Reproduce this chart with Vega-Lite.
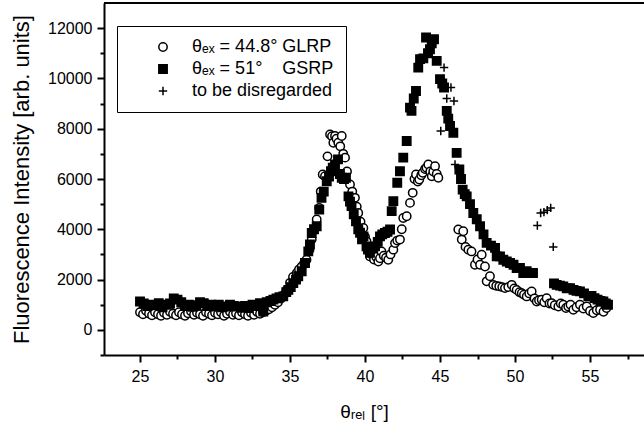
{
 "$schema": "https://vega.github.io/schema/vega-lite/v6.json",
 "width": 540,
 "height": 352,
 "autosize": {"type": "none"},
 "padding": {"left": 104, "top": 3, "right": 0, "bottom": 73},
 "config": {
  "font": "Liberation Sans",
  "view": {"stroke": null},
  "axis": {"domainColor": "black", "tickColor": "black", "labelColor": "black", "titleColor": "black", "grid": false, "domainWidth": 2, "tickWidth": 2, "titleFontWeight": "normal"}
 },
 "layer": [
  {
   "data": {"values": [
    {"x":25.0,"y":700,"s":"a"},{"x":25.2,"y":620,"s":"a"},{"x":25.4,"y":760,"s":"a"},{"x":25.6,"y":650,"s":"a"},{"x":25.8,"y":580,"s":"a"},
    {"x":26.0,"y":700,"s":"a"},{"x":26.2,"y":620,"s":"a"},{"x":26.4,"y":560,"s":"a"},{"x":26.6,"y":680,"s":"a"},{"x":26.8,"y":600,"s":"a"},
    {"x":27.0,"y":720,"s":"a"},{"x":27.2,"y":640,"s":"a"},{"x":27.4,"y":580,"s":"a"},{"x":27.6,"y":700,"s":"a"},{"x":27.8,"y":620,"s":"a"},
    {"x":28.0,"y":560,"s":"a"},{"x":28.2,"y":660,"s":"a"},{"x":28.4,"y":740,"s":"a"},{"x":28.6,"y":600,"s":"a"},{"x":28.8,"y":680,"s":"a"},
    {"x":29.0,"y":620,"s":"a"},{"x":29.2,"y":560,"s":"a"},{"x":29.4,"y":700,"s":"a"},{"x":29.6,"y":640,"s":"a"},{"x":29.8,"y":580,"s":"a"},
    {"x":30.0,"y":680,"s":"a"},{"x":30.2,"y":620,"s":"a"},{"x":30.4,"y":700,"s":"a"},{"x":30.6,"y":560,"s":"a"},{"x":30.8,"y":640,"s":"a"},
    {"x":31.0,"y":720,"s":"a"},{"x":31.2,"y":600,"s":"a"},{"x":31.4,"y":660,"s":"a"},{"x":31.6,"y":580,"s":"a"},{"x":31.8,"y":700,"s":"a"},
    {"x":32.0,"y":620,"s":"a"},{"x":32.2,"y":560,"s":"a"},{"x":32.4,"y":680,"s":"a"},{"x":32.6,"y":600,"s":"a"},{"x":32.8,"y":720,"s":"a"},
    {"x":33.0,"y":640,"s":"a"},{"x":33.2,"y":700,"s":"a"},{"x":33.4,"y":760,"s":"a"},{"x":33.6,"y":820,"s":"a"},{"x":33.8,"y":900,"s":"a"},
    {"x":34.0,"y":1000,"s":"a"},{"x":34.2,"y":1100,"s":"a"},{"x":34.4,"y":1250,"s":"a"},{"x":34.6,"y":1400,"s":"a"},{"x":34.8,"y":1600,"s":"a"},
    {"x":35.0,"y":1870,"s":"a"},{"x":35.2,"y":2100,"s":"a"},{"x":35.45,"y":2260,"s":"a"},{"x":35.6,"y":2400,"s":"a"},{"x":35.78,"y":2520,"s":"a"},
    {"x":35.95,"y":2650,"s":"a"},{"x":36.1,"y":2790,"s":"a"},{"x":36.3,"y":3190,"s":"a"},{"x":36.45,"y":3600,"s":"a"},{"x":36.6,"y":4000,"s":"a"},
    {"x":36.78,"y":4390,"s":"a"},{"x":36.95,"y":4850,"s":"a"},{"x":37.05,"y":5500,"s":"a"},{"x":37.18,"y":6180,"s":"a"},{"x":37.33,"y":6110,"s":"a"},
    {"x":37.5,"y":6900,"s":"a"},{"x":37.67,"y":7770,"s":"a"},{"x":37.8,"y":7700,"s":"a"},{"x":37.89,"y":7440,"s":"a"},{"x":38.0,"y":7710,"s":"a"},
    {"x":38.1,"y":7600,"s":"a"},{"x":38.22,"y":7440,"s":"a"},{"x":38.35,"y":7300,"s":"a"},{"x":38.45,"y":7710,"s":"a"},{"x":38.55,"y":7000,"s":"a"},
    {"x":38.67,"y":6850,"s":"a"},{"x":38.8,"y":6300,"s":"a"},{"x":39.0,"y":5780,"s":"a"},{"x":39.15,"y":5500,"s":"a"},{"x":39.33,"y":5250,"s":"a"},
    {"x":39.45,"y":4900,"s":"a"},{"x":39.55,"y":4650,"s":"a"},{"x":39.7,"y":4300,"s":"a"},{"x":39.89,"y":4050,"s":"a"},{"x":40.0,"y":3700,"s":"a"},
    {"x":40.1,"y":3520,"s":"a"},{"x":40.2,"y":3190,"s":"a"},{"x":40.33,"y":2920,"s":"a"},{"x":40.45,"y":3000,"s":"a"},{"x":40.6,"y":2800,"s":"a"},
    {"x":40.75,"y":2900,"s":"a"},{"x":40.89,"y":2720,"s":"a"},{"x":41.0,"y":2850,"s":"a"},{"x":41.1,"y":3120,"s":"a"},{"x":41.25,"y":2950,"s":"a"},
    {"x":41.4,"y":2870,"s":"a"},{"x":41.55,"y":2790,"s":"a"},{"x":41.7,"y":3000,"s":"a"},{"x":41.89,"y":3190,"s":"a"},{"x":42.0,"y":3450,"s":"a"},
    {"x":42.15,"y":3550,"s":"a"},{"x":42.33,"y":3590,"s":"a"},{"x":42.45,"y":4000,"s":"a"},{"x":42.55,"y":4450,"s":"a"},{"x":42.78,"y":4520,"s":"a"},
    {"x":43.0,"y":5050,"s":"a"},{"x":43.18,"y":5450,"s":"a"},{"x":43.3,"y":6000,"s":"a"},{"x":43.4,"y":6180,"s":"a"},{"x":43.52,"y":5900,"s":"a"},
    {"x":43.62,"y":5980,"s":"a"},{"x":43.75,"y":6150,"s":"a"},{"x":43.85,"y":6250,"s":"a"},{"x":44.0,"y":6400,"s":"a"},{"x":44.1,"y":6450,"s":"a"},
    {"x":44.22,"y":6580,"s":"a"},{"x":44.35,"y":6300,"s":"a"},{"x":44.45,"y":6110,"s":"a"},{"x":44.55,"y":6300,"s":"a"},{"x":44.67,"y":6510,"s":"a"},
    {"x":44.78,"y":6200,"s":"a"},{"x":44.89,"y":6050,"s":"a"},
    {"x":46.22,"y":3990,"s":"a"},{"x":46.45,"y":3590,"s":"a"},{"x":46.55,"y":3920,"s":"a"},{"x":46.7,"y":3300,"s":"a"},{"x":46.89,"y":3190,"s":"a"},
    {"x":47.1,"y":3120,"s":"a"},{"x":47.33,"y":2590,"s":"a"},{"x":47.5,"y":2800,"s":"a"},{"x":47.67,"y":2590,"s":"a"},{"x":47.78,"y":2990,"s":"a"},
    {"x":48.0,"y":2520,"s":"a"},{"x":48.11,"y":1930,"s":"a"},{"x":48.33,"y":2130,"s":"a"},{"x":48.55,"y":1790,"s":"a"},{"x":48.75,"y":1750,"s":"a"},
    {"x":48.95,"y":1730,"s":"a"},{"x":49.15,"y":1700,"s":"a"},{"x":49.33,"y":1660,"s":"a"},{"x":49.55,"y":1700,"s":"a"},{"x":49.78,"y":1790,"s":"a"},
    {"x":49.95,"y":1650,"s":"a"},{"x":50.11,"y":1590,"s":"a"},{"x":50.3,"y":1500,"s":"a"},{"x":50.45,"y":1460,"s":"a"},{"x":50.6,"y":1400,"s":"a"},
    {"x":50.78,"y":1330,"s":"a"},{"x":50.95,"y":1450,"s":"a"},{"x":51.11,"y":1530,"s":"a"},{"x":51.3,"y":1250,"s":"a"},{"x":51.45,"y":1130,"s":"a"},
    {"x":51.6,"y":1180,"s":"a"},{"x":51.78,"y":1200,"s":"a"},{"x":51.95,"y":1100,"s":"a"},{"x":52.11,"y":1260,"s":"a"},{"x":52.3,"y":1050,"s":"a"},
    {"x":52.45,"y":1060,"s":"a"},{"x":52.65,"y":980,"s":"a"},{"x":52.89,"y":930,"s":"a"},{"x":53.05,"y":1050,"s":"a"},{"x":53.22,"y":1000,"s":"a"},
    {"x":53.4,"y":870,"s":"a"},{"x":53.55,"y":930,"s":"a"},{"x":53.7,"y":1000,"s":"a"},{"x":53.89,"y":800,"s":"a"},{"x":54.1,"y":900,"s":"a"},
    {"x":54.33,"y":1000,"s":"a"},{"x":54.55,"y":850,"s":"a"},{"x":54.78,"y":930,"s":"a"},{"x":55.0,"y":750,"s":"a"},{"x":55.22,"y":670,"s":"a"},
    {"x":55.45,"y":780,"s":"a"},{"x":55.67,"y":800,"s":"a"},{"x":55.9,"y":720,"s":"a"},{"x":56.1,"y":870,"s":"a"},
    {"x":25.0,"y":1130,"s":"b"},{"x":25.25,"y":1050,"s":"b"},{"x":25.5,"y":950,"s":"b"},{"x":25.75,"y":1000,"s":"b"},{"x":26.0,"y":980,"s":"b"},
    {"x":26.25,"y":1060,"s":"b"},{"x":26.5,"y":900,"s":"b"},{"x":26.75,"y":1000,"s":"b"},{"x":27.0,"y":1050,"s":"b"},{"x":27.25,"y":1250,"s":"b"},
    {"x":27.5,"y":1200,"s":"b"},{"x":27.75,"y":1100,"s":"b"},{"x":28.0,"y":950,"s":"b"},{"x":28.25,"y":1000,"s":"b"},{"x":28.5,"y":920,"s":"b"},
    {"x":28.75,"y":980,"s":"b"},{"x":29.0,"y":1100,"s":"b"},{"x":29.25,"y":1060,"s":"b"},{"x":29.5,"y":950,"s":"b"},{"x":29.75,"y":1000,"s":"b"},
    {"x":30.0,"y":930,"s":"b"},{"x":30.25,"y":1000,"s":"b"},{"x":30.5,"y":900,"s":"b"},{"x":30.75,"y":930,"s":"b"},{"x":31.0,"y":1000,"s":"b"},
    {"x":31.25,"y":950,"s":"b"},{"x":31.5,"y":930,"s":"b"},{"x":31.75,"y":880,"s":"b"},{"x":32.0,"y":950,"s":"b"},{"x":32.25,"y":870,"s":"b"},
    {"x":32.5,"y":1000,"s":"b"},{"x":32.75,"y":950,"s":"b"},{"x":33.0,"y":1060,"s":"b"},{"x":33.22,"y":730,"s":"b"},{"x":33.45,"y":1100,"s":"b"},
    {"x":33.7,"y":1150,"s":"b"},{"x":33.89,"y":1200,"s":"b"},{"x":34.1,"y":1250,"s":"b"},{"x":34.3,"y":1300,"s":"b"},{"x":34.55,"y":1330,"s":"b"},
    {"x":34.75,"y":1500,"s":"b"},{"x":34.89,"y":1590,"s":"b"},{"x":35.05,"y":1700,"s":"b"},{"x":35.22,"y":1860,"s":"b"},{"x":35.4,"y":2000,"s":"b"},
    {"x":35.55,"y":2130,"s":"b"},{"x":35.78,"y":2330,"s":"b"},{"x":36.0,"y":2660,"s":"b"},{"x":36.22,"y":3120,"s":"b"},{"x":36.33,"y":3400,"s":"b"},
    {"x":36.45,"y":3850,"s":"b"},{"x":36.6,"y":4000,"s":"b"},{"x":36.78,"y":4120,"s":"b"},{"x":36.95,"y":4780,"s":"b"},{"x":37.1,"y":5250,"s":"b"},
    {"x":37.25,"y":5500,"s":"b"},{"x":37.45,"y":5910,"s":"b"},{"x":37.6,"y":6100,"s":"b"},{"x":37.73,"y":6310,"s":"b"},{"x":37.85,"y":6450,"s":"b"},
    {"x":38.0,"y":6580,"s":"b"},{"x":38.2,"y":6780,"s":"b"},{"x":38.33,"y":6200,"s":"b"},{"x":38.45,"y":6050,"s":"b"},{"x":38.6,"y":6000,"s":"b"},
    {"x":38.73,"y":6050,"s":"b"},{"x":38.9,"y":5310,"s":"b"},{"x":39.0,"y":5100,"s":"b"},{"x":39.1,"y":4920,"s":"b"},{"x":39.25,"y":4600,"s":"b"},
    {"x":39.4,"y":4320,"s":"b"},{"x":39.55,"y":4000,"s":"b"},{"x":39.67,"y":3860,"s":"b"},{"x":39.8,"y":3600,"s":"b"},{"x":39.9,"y":3720,"s":"b"},
    {"x":40.1,"y":3320,"s":"b"},{"x":40.2,"y":3190,"s":"b"},{"x":40.33,"y":3060,"s":"b"},{"x":40.5,"y":3250,"s":"b"},{"x":40.67,"y":3320,"s":"b"},
    {"x":40.85,"y":3500,"s":"b"},{"x":41.0,"y":3720,"s":"b"},{"x":41.15,"y":3800,"s":"b"},{"x":41.33,"y":3850,"s":"b"},{"x":41.5,"y":3900,"s":"b"},
    {"x":41.67,"y":3990,"s":"b"},{"x":41.78,"y":4720,"s":"b"},{"x":41.89,"y":5120,"s":"b"},{"x":42.15,"y":5850,"s":"b"},{"x":42.33,"y":6310,"s":"b"},
    {"x":42.55,"y":6850,"s":"b"},{"x":42.78,"y":7510,"s":"b"},{"x":43.0,"y":8840,"s":"b"},{"x":43.1,"y":8710,"s":"b"},{"x":43.25,"y":9200,"s":"b"},
    {"x":43.4,"y":9500,"s":"b"},{"x":43.55,"y":10430,"s":"b"},{"x":43.67,"y":10770,"s":"b"},{"x":43.89,"y":10800,"s":"b"},{"x":44.07,"y":11630,"s":"b"},
    {"x":44.2,"y":11000,"s":"b"},{"x":44.33,"y":11160,"s":"b"},{"x":44.45,"y":11400,"s":"b"},{"x":44.6,"y":11560,"s":"b"},{"x":44.78,"y":10700,"s":"b"},
    {"x":45.0,"y":9970,"s":"b"},{"x":45.15,"y":9800,"s":"b"},{"x":45.27,"y":9640,"s":"b"},{"x":45.45,"y":8710,"s":"b"},{"x":45.55,"y":8400,"s":"b"},
    {"x":45.67,"y":8110,"s":"b"},{"x":45.89,"y":7840,"s":"b"},{"x":46.11,"y":7040,"s":"b"},{"x":46.29,"y":6380,"s":"b"},{"x":46.4,"y":6000,"s":"b"},
    {"x":46.51,"y":5580,"s":"b"},{"x":46.65,"y":5400,"s":"b"},{"x":46.78,"y":5310,"s":"b"},{"x":47.0,"y":5000,"s":"b"},{"x":47.22,"y":4650,"s":"b"},
    {"x":47.45,"y":4400,"s":"b"},{"x":47.67,"y":4120,"s":"b"},{"x":47.9,"y":3800,"s":"b"},{"x":48.11,"y":3460,"s":"b"},{"x":48.4,"y":3350,"s":"b"},
    {"x":48.67,"y":3260,"s":"b"},{"x":48.78,"y":2920,"s":"b"},{"x":49.0,"y":2920,"s":"b"},{"x":49.22,"y":2790,"s":"b"},{"x":49.45,"y":2720,"s":"b"},
    {"x":49.67,"y":2660,"s":"b"},{"x":49.9,"y":2590,"s":"b"},{"x":50.11,"y":2460,"s":"b"},{"x":50.33,"y":2460,"s":"b"},{"x":50.55,"y":2260,"s":"b"},
    {"x":50.78,"y":2330,"s":"b"},{"x":51.0,"y":2260,"s":"b"},{"x":51.2,"y":2260,"s":"b"},
    {"x":52.6,"y":1850,"s":"b"},{"x":52.78,"y":1790,"s":"b"},{"x":53.0,"y":1760,"s":"b"},{"x":53.22,"y":1730,"s":"b"},{"x":53.45,"y":1650,"s":"b"},
    {"x":53.67,"y":1660,"s":"b"},{"x":53.9,"y":1590,"s":"b"},{"x":54.1,"y":1550,"s":"b"},{"x":54.33,"y":1530,"s":"b"},{"x":54.6,"y":1450,"s":"b"},
    {"x":54.89,"y":1330,"s":"b"},{"x":55.1,"y":1350,"s":"b"},{"x":55.3,"y":1260,"s":"b"},{"x":55.5,"y":1200,"s":"b"},{"x":55.7,"y":1150,"s":"b"},
    {"x":55.89,"y":1130,"s":"b"},{"x":56.05,"y":1050,"s":"b"},{"x":56.2,"y":1000,"s":"b"},
    {"x":45.27,"y":10430,"s":"c"},{"x":45.73,"y":9640,"s":"c"},{"x":45.45,"y":9200,"s":"c"},{"x":45.93,"y":9100,"s":"c"},{"x":45.05,"y":7910,"s":"c"},
    {"x":46.0,"y":6580,"s":"c"},
    {"x":51.49,"y":4150,"s":"c"},{"x":51.71,"y":4650,"s":"c"},{"x":51.93,"y":4680,"s":"c"},{"x":52.15,"y":4760,"s":"c"},{"x":52.38,"y":4850,"s":"c"},
    {"x":52.55,"y":3300,"s":"c"}
   ]},
   "mark": {"type": "point", "size": 70, "strokeWidth": 1.5, "opacity": 1},
   "encoding": {
    "x": {"field": "x", "type": "quantitative",
     "scale": {"domain": [22.6, 58.6], "nice": false, "zero": false},
     "axis": {"title": "θᵣₑₗ [°]", "values": [25, 27.5, 30, 32.5, 35, 37.5, 40, 42.5, 45, 47.5, 50, 52.5, 55, 57.5], "format": "d",
      "labelExpr": "datum.value % 5 === 0 ? datum.label : ''",
      "tickSize": {"condition": {"test": "datum.value % 5 === 0", "value": 7}, "value": 4},
      "labelFontSize": 16, "labelPadding": 6, "titleFontSize": 19, "titlePadding": 18, "titleX": 260, "labelFlush": false}},
    "y": {"field": "y", "type": "quantitative",
     "scale": {"domain": [-1000, 13000], "nice": false, "zero": false},
     "axis": {"title": "Fluorescence Intensity [arb. units]", "values": [-1000, 0, 1000, 2000, 3000, 4000, 5000, 6000, 7000, 8000, 9000, 10000, 11000, 12000], "format": "d",
      "labelExpr": "datum.value % 2000 === 0 ? datum.label : ''",
      "tickSize": {"condition": {"test": "datum.value % 2000 === 0", "value": 7}, "value": 4},
      "labelFontSize": 16, "labelPadding": 5, "titleFontSize": 22, "titlePadding": 14}},
    "shape": {"field": "s", "type": "nominal",
     "scale": {"domain": ["a", "b", "c"], "range": ["circle", "square", "M-1,0H1M0,-1V1"]},
     "legend": {"title": null, "orient": "none", "legendX": 13, "legendY": 23,
      "labelExpr": "datum.value == 'a' ? 'θₑₓ = 44.8° GLRP\u00a0\u00a0' : datum.value == 'b' ? 'θₑₓ = 51°\u00a0\u00a0\u00a0\u00a0GSRP' : 'to be disregarded'",
      "labelFontSize": 18, "labelColor": "black", "padding": 12, "strokeColor": "black", "fillColor": "white",
      "symbolOffset": 25, "labelOffset": 20, "rowPadding": 4, "symbolSize": 70, "symbolStrokeWidth": 1.5}},
    "fill": {"field": "s", "type": "nominal", "scale": {"domain": ["a", "b", "c"], "range": ["white", "black", "transparent"]}},
    "stroke": {"field": "s", "type": "nominal", "scale": {"domain": ["a", "b", "c"], "range": ["black", "black", "black"]}}
   }
  },
  {
   "data": {"values": [{"y": 13000}]},
   "mark": {"type": "rule", "color": "black", "strokeWidth": 2},
   "encoding": {"y": {"field": "y", "type": "quantitative",
     "axis": {"title": "Fluorescence Intensity [arb. units]", "values": [-1000, 0, 1000, 2000, 3000, 4000, 5000, 6000, 7000, 8000, 9000, 10000, 11000, 12000], "format": "d",
      "labelExpr": "datum.value % 2000 === 0 ? datum.label : ''",
      "tickSize": {"condition": {"test": "datum.value % 2000 === 0", "value": 7}, "value": 4},
      "labelFontSize": 16, "labelPadding": 5, "titleFontSize": 22, "titlePadding": 14}}}
  }
 ]
}
